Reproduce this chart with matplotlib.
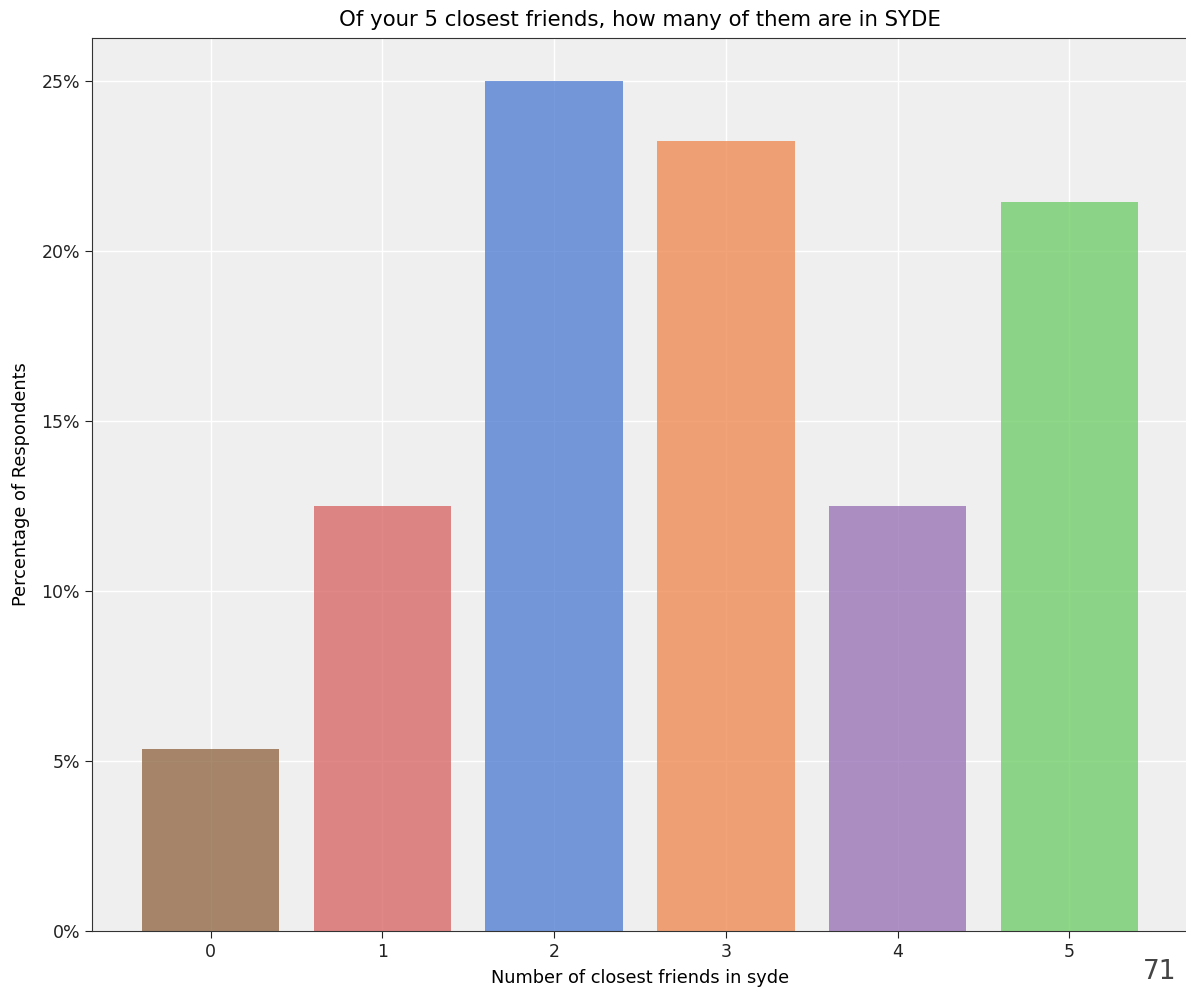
import matplotlib
matplotlib.use("Agg")
import matplotlib.pyplot as plt
from matplotlib.ticker import PercentFormatter

# survey answers, share of respondents (%)
friends = [0, 1, 2, 3, 4, 5]
percent = [5.36, 12.5, 25.0, 23.21, 12.5, 21.43]
colors = ['#8c613c', '#d65f5f', '#4878d0', '#ee854a', '#956cb4', '#6acc64']

fig = plt.figure(figsize=(11.86, 9.88), dpi=100)
ax = fig.add_axes([0.0776, 0.0577, 0.9241, 0.9038])
ax.set_facecolor('#efefef')
ax.set_axisbelow(True)
ax.grid(True, color='white', linewidth=1)

ax.bar(friends, percent, width=0.8, color=colors, alpha=0.75)

ax.yaxis.set_major_formatter(PercentFormatter(decimals=0))
ax.set_xticks(friends)
ax.tick_params(labelsize=12.5, length=5, colors='#222222')
for s in ax.spines.values():
    s.set_color('#333333')
ax.spines['right'].set_visible(False)

ax.set_title("Of your 5 closest friends, how many of them are in SYDE", fontsize=15.3, pad=9)
ax.set_xlabel("Number of closest friends in syde", fontsize=12.8, labelpad=6)
ax.set_ylabel("Percentage of Respondents", fontsize=12.8, labelpad=8)

# page number from the slide
fig.text(0.978, 0.003, "71", fontsize=19, color='#444444', ha='center', va='bottom')

fig.savefig("out.png", dpi=100)
